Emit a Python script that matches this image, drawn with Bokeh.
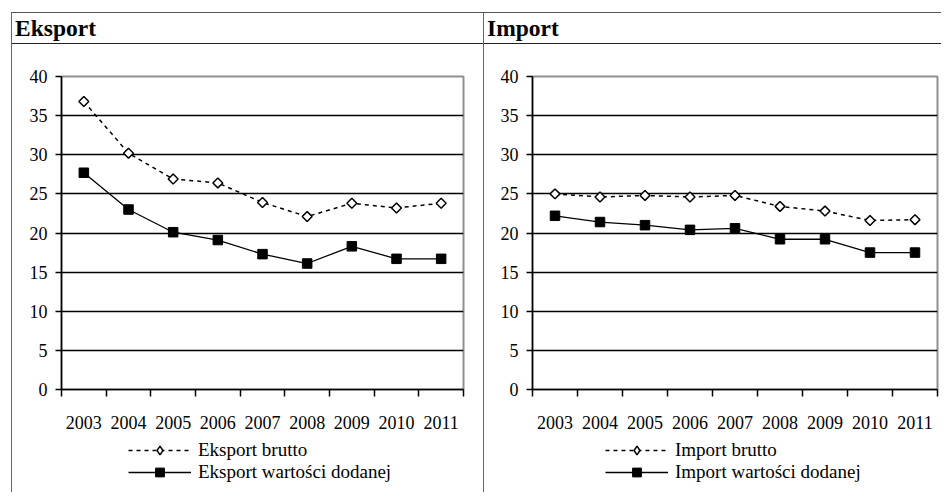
import numpy as np
from bokeh.plotting import figure
from bokeh.layouts import row, column
from bokeh.models import (Range1d, FixedTicker, Legend, LegendItem, Spacer, Div)
from bokeh.embed import file_html
from bokeh.resources import INLINE

years = [2003, 2004, 2005, 2006, 2007, 2008, 2009, 2010, 2011]
eksport_brutto = [36.8, 30.2, 26.9, 26.4, 23.9, 22.1, 23.8, 23.2, 23.8]
eksport_wd = [27.7, 23.0, 20.1, 19.1, 17.3, 16.1, 18.3, 16.7, 16.7]
import_brutto = [25.0, 24.6, 24.8, 24.6, 24.8, 23.4, 22.8, 21.6, 21.7]
import_wd = [22.2, 21.4, 21.0, 20.4, 20.6, 19.2, 19.2, 17.5, 17.5]
y_ticks = [0, 5, 10, 15, 20, 25, 30, 35, 40]

FONT = "Liberation Serif"

BRUTTO_LINE = dict(line_color="#000000", line_width=1.5, line_dash="4 4")
BRUTTO_MARK = dict(marker="square", angle=np.pi / 4, size=7,
                   fill_color="#ffffff", line_color="#000000", line_width=1.5)
BRUTTO_LEG_MARK = dict(marker="diamond", size=7,
                       fill_color="#ffffff", line_color="#000000", line_width=1.5)
WD_LINE = dict(line_color="#000000", line_width=1.3)
WD_MARK = dict(marker="square", size=9.5, fill_color="#000000", line_color="#000000")


def hline(w, color="#555555"):
    return Spacer(width=w, height=1, styles={"background-color": color})


def vline(h, color="#666666"):
    return Spacer(width=1, height=h, styles={"background-color": color})


def title_div(text, w):
    html = ('<div style="padding-left:3px;line-height:30px;'
            "font-family:'Liberation Serif';font-size:23.5px;"
            'font-weight:bold;color:#000;white-space:nowrap">%s</div>' % text)
    return Div(text=html, width=w, height=30, margin=0)


def chart(brutto, wd, w, mbl, mbr):
    p = figure(width=w, height=395, x_range=Range1d(2002.5, 2011.5),
               y_range=Range1d(0, 40), toolbar_location=None,
               output_backend="svg", min_border_left=mbl, min_border_right=mbr,
               min_border_top=32, min_border_bottom=50)
    p.outline_line_color = "#909090"
    p.outline_line_width = 2
    p.xgrid.visible = False
    p.ygrid.ticker = FixedTicker(ticks=y_ticks[1:-1])
    p.ygrid.grid_line_color = "#000000"
    p.ygrid.grid_line_width = 1.5

    p.line(years, brutto, **BRUTTO_LINE)
    p.scatter(years, brutto, **BRUTTO_MARK)
    p.line(years, wd, **WD_LINE)
    p.scatter(years, wd, **WD_MARK)

    xa = p.xaxis[0]
    xa.ticker = FixedTicker(ticks=years, minor_ticks=[y - 0.5 for y in years] + [years[-1] + 0.5])
    xa.major_label_overrides = {y: str(y) for y in years}
    xa.major_tick_out = 0
    xa.major_tick_in = 0
    xa.minor_tick_out = 7
    xa.minor_tick_in = 0
    xa.minor_tick_line_color = "#000000"
    xa.minor_tick_line_width = 1.5
    xa.axis_line_color = "#000000"
    xa.axis_line_width = 1.5
    xa.major_label_standoff = 19
    xa.major_label_text_font = FONT
    xa.major_label_text_font_size = "18px"
    xa.major_label_text_color = "#000000"

    ya = p.yaxis[0]
    ya.ticker = FixedTicker(ticks=y_ticks, minor_ticks=[])
    ya.major_tick_out = 6
    ya.major_tick_in = 0
    ya.minor_tick_out = 0
    ya.major_tick_line_color = "#000000"
    ya.major_tick_line_width = 1.5
    ya.axis_line_color = "#000000"
    ya.axis_line_width = 1.5
    ya.major_label_standoff = 8
    ya.major_label_text_font = FONT
    ya.major_label_text_font_size = "18px"
    ya.major_label_text_color = "#000000"
    return p


def legend_fig(brutto, wd, lab_b, lab_w, w, mbl, mbr, leg_x):
    # Legend panel below the chart; its glyphs use the same series but the
    # ranges keep the data out of view, so only the legend is shown.
    f = figure(width=w, height=53, x_range=Range1d(0, 1), y_range=Range1d(0, 1),
               toolbar_location=None, output_backend="svg",
               x_axis_type=None, y_axis_type=None,
               min_border_left=mbl, min_border_right=mbr,
               min_border_top=0, min_border_bottom=0)
    f.outline_line_color = None
    f.xgrid.visible = False
    f.ygrid.visible = False
    l1 = f.line(years, brutto, **BRUTTO_LINE)
    s1 = f.scatter(years, brutto, **BRUTTO_LEG_MARK)
    l2 = f.line(years, wd, **WD_LINE)
    s2 = f.scatter(years, wd, **WD_MARK)
    legend = Legend(items=[LegendItem(label=lab_b, renderers=[l1, s1]),
                           LegendItem(label=lab_w, renderers=[l2, s2])],
                    location=(leg_x, 9), orientation="vertical",
                    glyph_width=63, glyph_height=22, label_height=22,
                    spacing=0, padding=0, margin=0, label_standoff=7,
                    label_text_font=FONT, label_text_font_size="19px",
                    label_text_color="#000000",
                    border_line_color=None, background_fill_alpha=0)
    f.add_layout(legend, "center")
    return f


LW = 471
RW = 457
left_col = column(title_div("Eksport", LW), hline(LW, "#222222"),
                  chart(eksport_brutto, eksport_wd, LW, 49, 20),
                  legend_fig(eksport_brutto, eksport_wd, "Eksport brutto",
                             "Eksport wartości dodanej", LW, 49, 20, 67),
                  spacing=0)
right_col = column(title_div("Import", RW), hline(RW, "#222222"),
                   chart(import_brutto, import_wd, RW, 48, 4),
                   legend_fig(import_brutto, import_wd, "Import brutto",
                              "Import wartości dodanej", RW, 48, 4, 73),
                   spacing=0)

layout = column(
    Spacer(width=10, height=12),
    row(Spacer(width=11, height=1), hline(LW + RW + 2)),
    row(Spacer(width=11, height=10), vline(479), left_col, vline(479), right_col),
    spacing=0,
)

open("out.html", "w").write(file_html(layout, INLINE))
